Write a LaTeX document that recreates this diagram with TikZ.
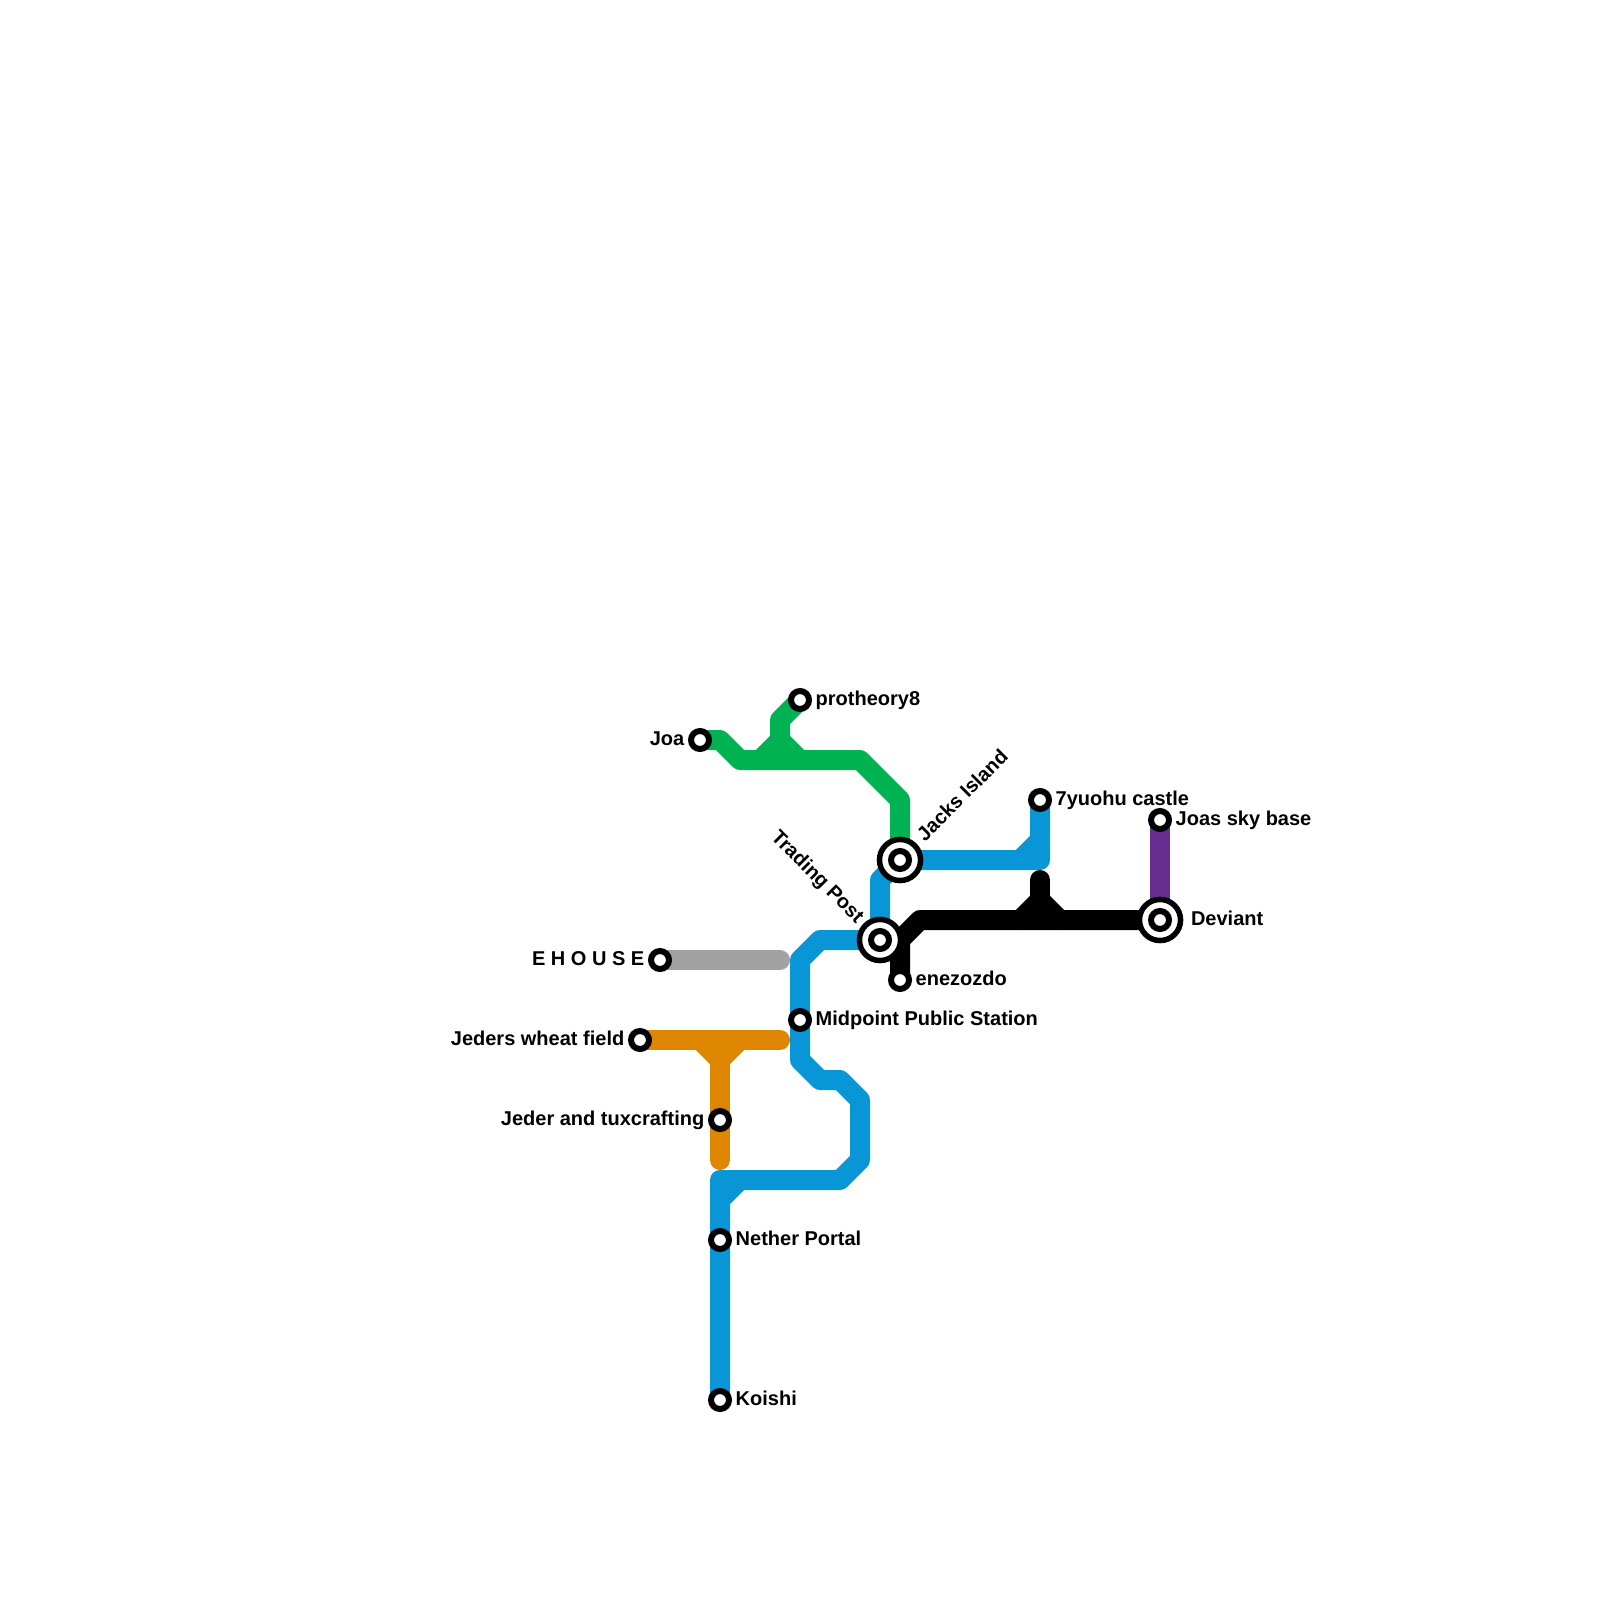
\documentclass[tikz,border=0pt]{standalone}
\usepackage{fontspec}
\setmainfont{Liberation Sans}
\usetikzlibrary{positioning, backgrounds}
\definecolor{linegreen}{HTML}{00B251}
\definecolor{lineblue}{HTML}{0896D7}
\definecolor{lineorange}{HTML}{DF8600}
\definecolor{linepurple}{HTML}{662C90}
\definecolor{linesilver}{HTML}{A2A2A2}
\tikzset{
  metroline/.style={line width=2mm, line cap=round, line join=round},
  station/.style={circle, draw=black, fill=white, line width=0.6mm, minimum size=1.8mm, inner sep=0pt},
  hub/.style={circle, draw=black, fill=white, line width=0.55mm, minimum size=4.11mm, inner sep=0pt},
  stationname/.style={font=\fontsize{5.69pt}{6pt}\selectfont\bfseries, inner sep=0pt, text height=1.5mm, text depth=0.5mm, node distance=0.3mm},
}

\begin{document}
\begin{tikzpicture}[x=2mm, y=-2mm]
\useasboundingbox (0,0) rectangle (80,80);
\node[hub] (jacksring) at (45,43) {};
\node[hub] (tradingring) at (44,47) {};
\node[hub] (deviantring) at (58,46) {};
\node[station] (joa) at (35,37) {};
\node[station] (protheory) at (40,35) {};
\node[station] (jacks) at (jacksring) {};
\node[station] (trading) at (tradingring) {};
\node[station] (deviant) at (deviantring) {};
\node[station] (castle) at (52,40) {};
\node[station] (skybase) at (58,41) {};
\node[station] (enezozdo) at (45,49) {};
\node[station] (midpoint) at (40,51) {};
\node[station] (ehouse) at (33,48) {};
\node[station] (wheat) at (32,52) {};
\node[station] (tuxcrafting) at (36,56) {};
\node[station] (nether) at (36,62) {};
\node[station] (koishi) at (36,70) {};
\coordinate (greenfork) at (39,37);
\coordinate (blackfork) at (52,45);
\coordinate (orangefork) at (36,53);
\coordinate (silverend) at (39,48);
\coordinate (orangeend) at (39,52);
\coordinate (orangefoot) at (36,58);
\coordinate (blackstub) at (52,44);
\node[stationname, right=of protheory] (protheoryname) {protheory8};
\node[stationname, left=of joa] (joaname) {Joa};
\node[stationname, right=of castle] (castlename) {7yuohu castle};
\node[stationname, right=of skybase] (skybasename) {Joas sky base};
\node[stationname, right=0.7mm of deviantring] (deviantname) {Deviant};
\node[stationname, right=of enezozdo] (enezozdoname) {enezozdo};
\node[stationname, right=of midpoint] (midpointname) {Midpoint Public Station};
\node[stationname, left=of ehouse] (ehousename) {E H O U S E};
\node[stationname, left=of wheat] (wheatname) {Jeders wheat field};
\node[stationname, left=of tuxcrafting] (tuxcraftingname) {Jeder and tuxcrafting};
\node[stationname, right=of nether] (nethername) {Nether Portal};
\node[stationname, right=of koishi] (koishiname) {Koishi};
\node[stationname, rotate=45, anchor=west] (jacksname) at (46.05,41.95) {Jacks Island};
\node[stationname, rotate=-45, anchor=east] (tradingname) at (43.0,46.05) {Trading Post};
\begin{scope}[on background layer]
\draw[metroline, linesilver] (ehouse.center) -- (silverend);
\draw[metroline, lineorange] (wheat.center) -- (orangeend);
\draw[metroline, lineorange] (orangefork) -- (orangefoot);
\draw[metroline, lineorange] (35,52) -- (orangefork) -- (37,52);
\draw[metroline, linegreen] (joa.center) -- (36,37) -- (37,38) -- (43,38) -- (45,40) -- (jacks.center);
\draw[metroline, linegreen] (protheory.center) -- (39,36) -- (greenfork) -- (38,38);
\draw[metroline, linegreen] (greenfork) -- (40,38);
\draw[metroline, lineblue] (koishi.center) -- (36,59) -- (42,59) -- (43,58) -- (43,55) -- (42,54) -- (41,54) -- (40,53) -- (midpoint.center) -- (40,48) -- (41,47) -- (trading.center) -- (44,44) -- (jacks.center) -- (52,43) -- (castle.center);
\draw[metroline, lineblue] (36,60) -- (37,59);
\draw[metroline, lineblue] (51,43) -- (52,42);
\draw[metroline, linepurple] (skybase.center) -- (deviant.center);
\draw[metroline, black] (deviant.center) -- (46,46) -- (45,47) -- (enezozdo.center);
\draw[metroline, black] (blackstub) -- (blackfork);
\draw[metroline, black] (51,46) -- (blackfork) -- (53,46);
\end{scope}
\end{tikzpicture}
\end{document}
